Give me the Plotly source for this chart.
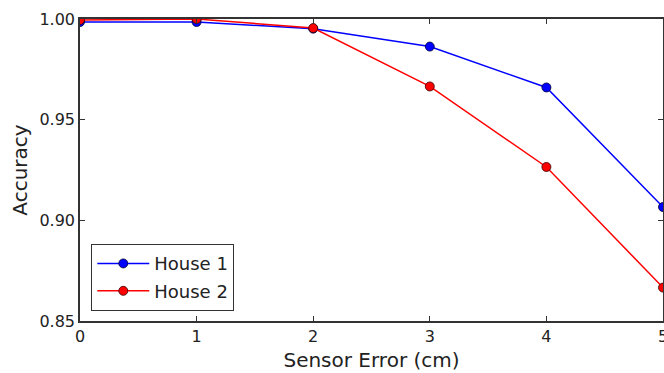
import plotly.graph_objects as go

sensor_error = [0, 1, 2, 3, 4, 5]
house1 = [0.9985, 0.9985, 0.9952, 0.9863, 0.9660, 0.9066]
house2 = [0.9995, 1.0000, 0.9955, 0.9665, 0.9265, 0.8666]
x_ticks = [0, 1, 2, 3, 4, 5]
y_ticks = [0.85, 0.90, 0.95, 1.00]

FONT = "DejaVu Sans"

fig = go.Figure()
fig.add_trace(go.Scatter(
    x=sensor_error, y=house1, mode="lines+markers", name="House 1",
    legendgroup="h1",
    line=dict(color="#0000ff", width=1.5),
    marker=dict(color="#0000ff", size=9, line=dict(color="#000033", width=0.8)),
    cliponaxis=True,
))
fig.add_trace(go.Scatter(
    x=sensor_error, y=house2, mode="lines+markers", name="House 2",
    legendgroup="h2",
    line=dict(color="#ff0000", width=1.5),
    marker=dict(color="#ff0000", size=9, line=dict(color="#330000", width=0.8)),
    cliponaxis=True,
))

axis_common = dict(
    showgrid=False, zeroline=False, showline=True, linecolor="#333333",
    linewidth=1.5, mirror="ticks", ticks="inside", ticklen=5, tickwidth=1,
    tickcolor="#333333", tickfont=dict(family=FONT, size=16, color="#222222"),
    ticklabeloverflow="allow", automargin=False,
)

fig.update_layout(
    width=664, height=373,
    margin=dict(l=80, r=1, t=19, b=52),
    paper_bgcolor="white", plot_bgcolor="white",
    font=dict(family=FONT),
    xaxis=dict(range=[0, 5], tickvals=x_ticks, ticktext=[str(v) for v in x_ticks],
               title=dict(text="Sensor Error (cm)", font=dict(family=FONT, size=20, color="#222222"), standoff=8),
               **axis_common),
    yaxis=dict(range=[0.85, 1.0], tickvals=y_ticks, tickformat=".2f",
               title=dict(text="Accuracy", font=dict(family=FONT, size=20, color="#222222"), standoff=6),
               **axis_common),
    legend=dict(x=0.019, y=0.033, xanchor="left", yanchor="bottom",
                bgcolor="white", bordercolor="#333333", borderwidth=1.2,
                font=dict(family=FONT, size=18, color="#222222"),
                itemwidth=52, traceorder="grouped", tracegroupgap=1),
    showlegend=True,
)

fig.write_html("out.html")
